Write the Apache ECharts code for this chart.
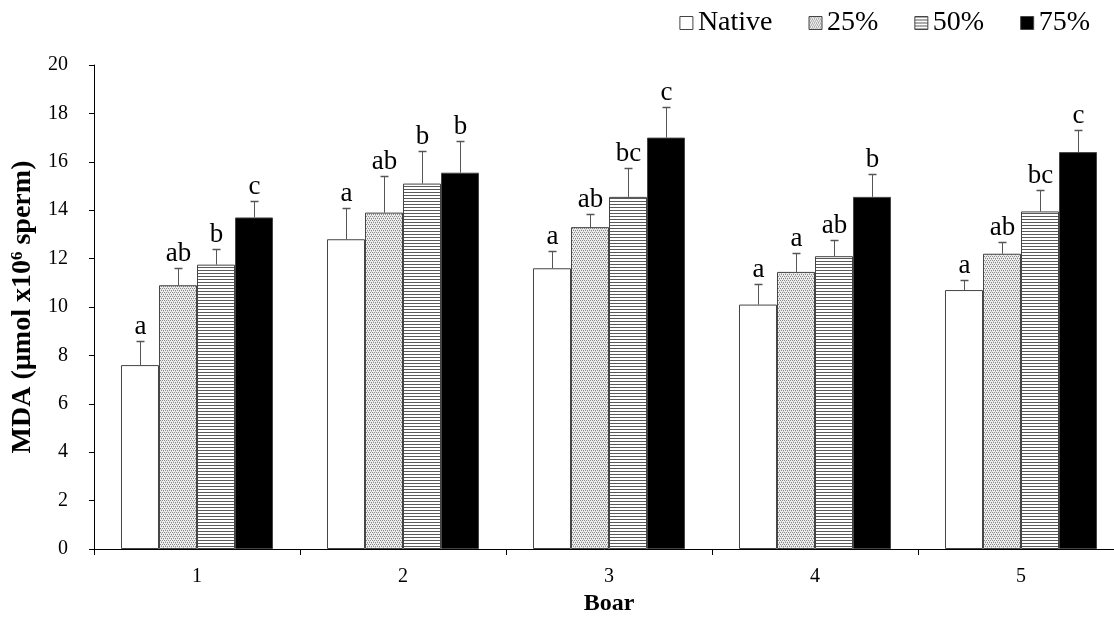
<!DOCTYPE html>
<html>
<head>
<meta charset="utf-8">
<script src="https://cdn.jsdelivr.net/npm/echarts@6/dist/echarts.min.js"></script>
<style>
  html, body { margin: 0; padding: 0; background: #fff; }
  #main { width: 1114px; height: 624px; }
</style>
</head>
<body>
<div id="main"></div>
<script>
// boar categories and groups
var categories = ['1', '2', '3', '4', '5'];
var groupNames = ['Native', '25%', '50%', '75%'];

// mean MDA values per group
var nativeVals = [7.6, 12.8, 11.6, 10.1, 10.7];
var pct25Vals = [10.9, 13.9, 13.3, 11.45, 12.2];
var pct50Vals = [11.75, 15.1, 14.55, 12.1, 13.95];
var pct75Vals = [13.7, 15.55, 17.0, 14.55, 16.4];

// error bar (SE) sizes
var nativeErr = [1.0, 1.3, 0.7, 0.85, 0.4];
var pct25Err = [0.7, 1.5, 0.55, 0.8, 0.5];
var pct50Err = [0.65, 1.35, 1.2, 0.65, 0.9];
var pct75Err = [0.7, 1.3, 1.25, 0.95, 0.9];

// significance letters
var nativeLetters = ['a', 'a', 'a', 'a', 'a'];
var pct25Letters = ['ab', 'ab', 'ab', 'a', 'ab'];
var pct50Letters = ['b', 'b', 'bc', 'ab', 'bc'];
var pct75Letters = ['c', 'b', 'c', 'b', 'c'];

var yTicks = { min: 0, max: 20, interval: 2 };

var values = [nativeVals, pct25Vals, pct50Vals, pct75Vals];
var errors = [nativeErr, pct25Err, pct50Err, pct75Err];
var letters = [nativeLetters, pct25Letters, pct50Letters, pct75Letters];

var FONT = '"Liberation Serif", "Times New Roman", serif';
var GAP = 0.262;

// fill patterns
function dotPattern() {
    var c = document.createElement('canvas');
    c.width = 4; c.height = 4;
    var g = c.getContext('2d');
    g.fillStyle = '#eeeeee';
    g.fillRect(0, 0, 4, 4);
    g.fillStyle = '#8a8a8a';
    g.fillRect(0, 0, 1, 1);
    g.fillRect(2, 0, 1, 1);
    g.fillRect(1, 2, 1, 1);
    g.fillRect(3, 2, 1, 1);
    g.fillStyle = '#c4c4c4';
    g.fillRect(1, 1, 1, 1);
    g.fillRect(3, 3, 1, 1);
    return c;
}
function stripePattern() {
    var c = document.createElement('canvas');
    c.width = 4; c.height = 3;
    var g = c.getContext('2d');
    g.fillStyle = '#ffffff';
    g.fillRect(0, 0, 4, 3);
    g.fillStyle = '#5a5a5a';
    g.fillRect(0, 0, 4, 1);
    return c;
}

var fills = [
    '#ffffff',
    { image: dotPattern(), repeat: 'repeat' },
    { image: stripePattern(), repeat: 'repeat' },
    '#000000'
];

function errRender(k) {
    return function (params, api) {
        var i = params.dataIndex;
        var base = api.coord([api.value(0), api.value(1)]);
        var top = api.coord([api.value(0), api.value(1) + api.value(2)]);
        var band = api.size([1, 0])[0];
        var bw = band * (1 - GAP) / 4;
        var x = Math.round(base[0] + (k - 1.5) * bw) + 0.5;
        var ty = Math.round(top[1]) + 0.5;
        return {
            type: 'group',
            children: [
                { type: 'line', shape: { x1: x, y1: base[1], x2: x, y2: ty }, style: { stroke: '#555', lineWidth: 1 } },
                { type: 'line', shape: { x1: x - 4, y1: ty, x2: x + 4, y2: ty }, style: { stroke: '#555', lineWidth: 1.5 } },
                { type: 'text', style: { text: letters[k][i], x: x, y: ty - 1, align: 'center', verticalAlign: 'bottom', font: '27px ' + FONT, fill: '#000' } }
            ]
        };
    };
}

var series = [];
groupNames.forEach(function (name, k) {
    series.push({
        name: name,
        type: 'bar',
        data: values[k],
        barGap: '0%',
        barCategoryGap: (GAP * 100) + '%',
        itemStyle: { color: fills[k], borderColor: '#444', borderWidth: 1 },
        emphasis: { disabled: true }
    });
});
groupNames.forEach(function (name, k) {
    series.push({
        name: 'err' + k,
        type: 'custom',
        renderItem: errRender(k),
        data: categories.map(function (c, i) { return [i, values[k][i], errors[k][i]]; }),
        z: 5,
        silent: true
    });
});

var chart = echarts.init(document.getElementById('main'));
chart.setOption({
    animation: false,
    legend: {
        data: groupNames,
        top: 4,
        right: 19,
        itemWidth: 13,
        itemHeight: 13,
        itemGap: 36,
        icon: 'rect',
        textStyle: { fontFamily: FONT, fontSize: 28, color: '#000' },
        itemStyle: { borderColor: '#444', borderWidth: 1 }
    },
    grid: { left: 94, width: 1030, top: 65, bottom: 75, containLabel: false, outerBoundsMode: 'none' },
    xAxis: {
        type: 'category',
        data: categories,
        name: 'Boar',
        nameLocation: 'middle',
        nameGap: 43,
        nameTextStyle: { fontFamily: FONT, fontSize: 24, fontWeight: 'bold', color: '#000' },
        axisLine: { lineStyle: { color: '#000', width: 1 } },
        axisTick: { show: true, length: 6, lineStyle: { color: '#000' } },
        axisLabel: { fontFamily: FONT, fontSize: 20, color: '#000', margin: 18 }
    },
    yAxis: {
        type: 'value',
        min: yTicks.min,
        max: yTicks.max,
        interval: yTicks.interval,
        name: 'MDA (\u00b5mol x10{sup|6} sperm)',
        nameLocation: 'middle',
        nameGap: 50,
        nameTextStyle: {
            fontFamily: FONT, fontSize: 28, fontWeight: 'bold', color: '#000',
            rich: { sup: { fontFamily: FONT, fontSize: 17, fontWeight: 'bold', color: '#000', verticalAlign: 'top', padding: [0, 0, 11, 0] } }
        },
        axisLine: { show: true, lineStyle: { color: '#000', width: 1 } },
        axisTick: { show: true, length: 5, lineStyle: { color: '#000' } },
        splitLine: { show: false },
        axisLabel: { fontFamily: FONT, fontSize: 20, color: '#000', margin: 26 }
    },
    series: series
});
</script>
</body>
</html>
